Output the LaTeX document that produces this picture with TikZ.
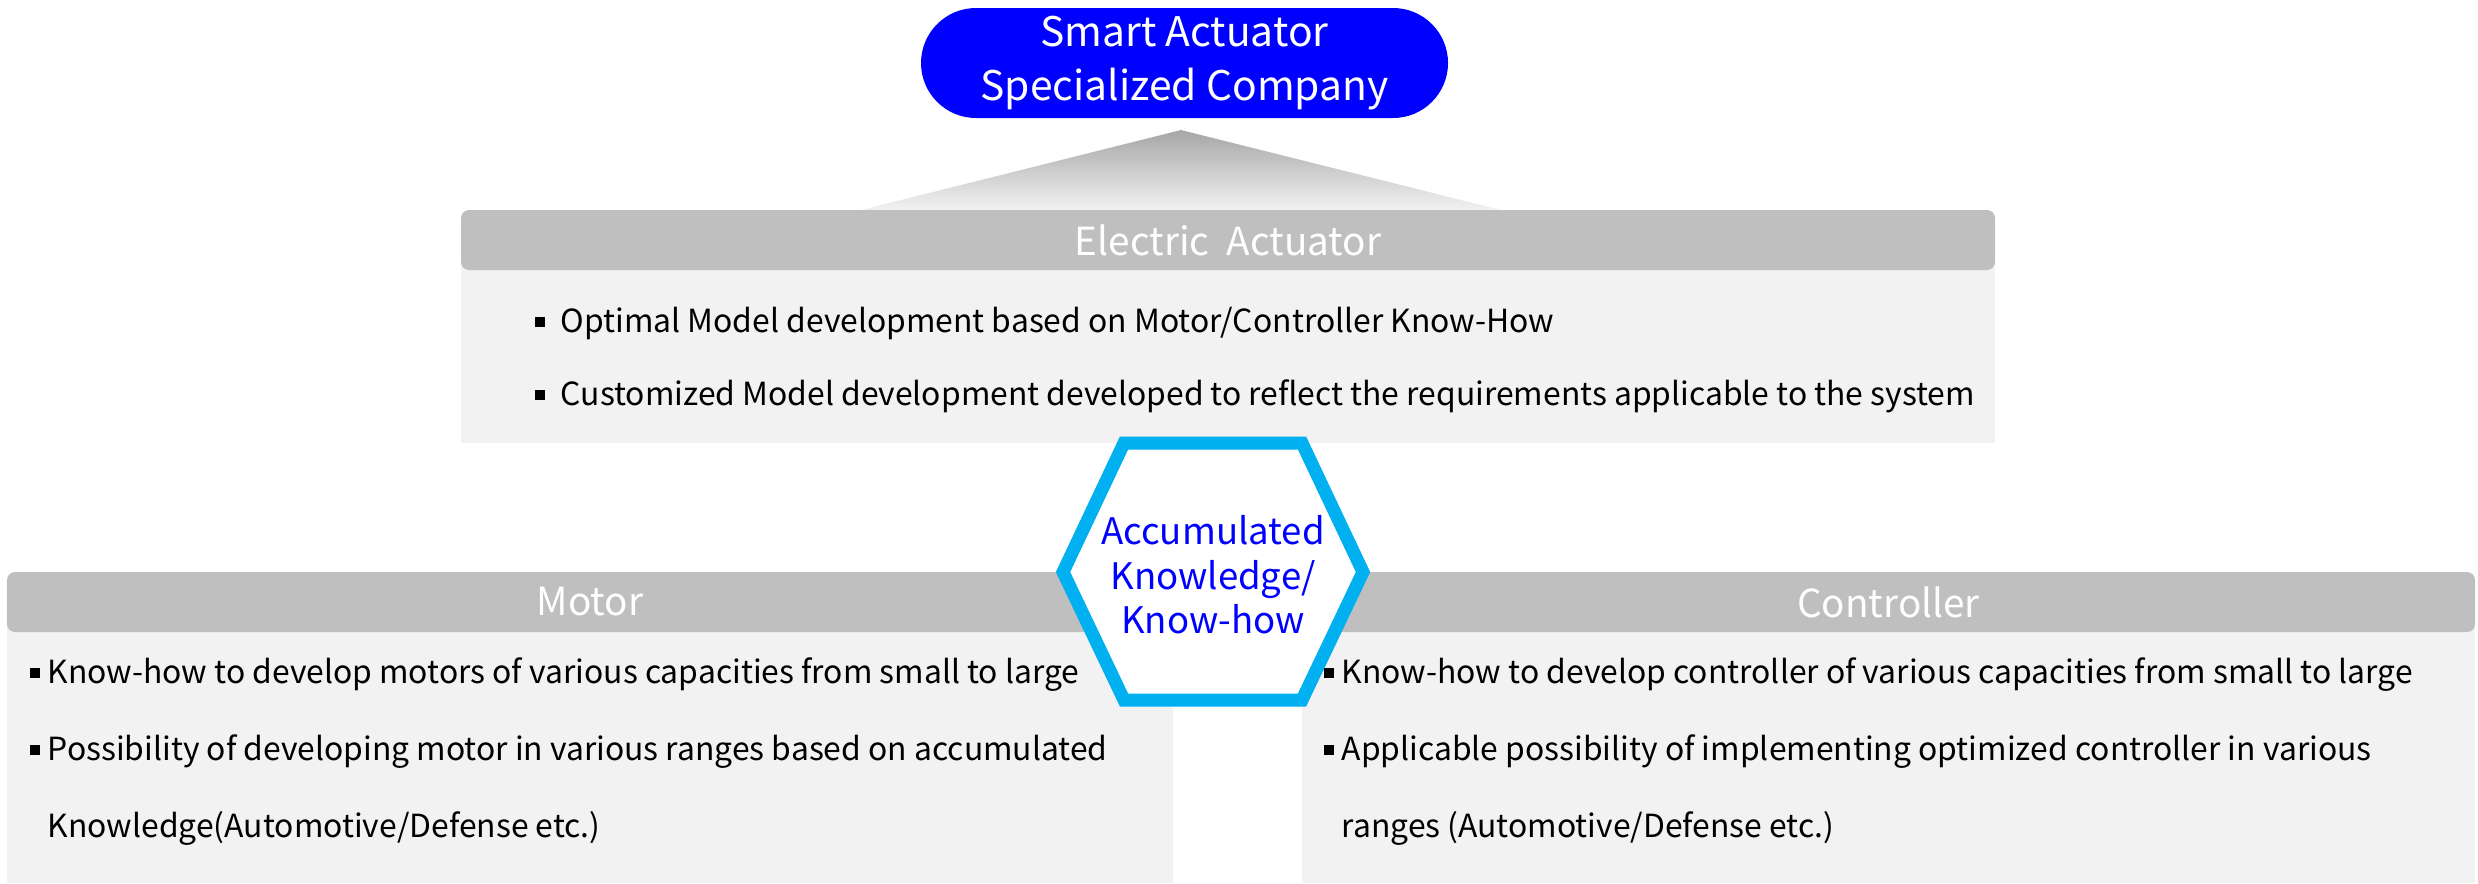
\documentclass[tikz,border=0pt]{standalone}
\usepackage{fontspec}
\setmainfont{Noto Sans CJK KR}
\usetikzlibrary{positioning, calc, shapes.misc}
\definecolor{pill-blue}{RGB}{0,0,255}
\definecolor{hex-cyan}{RGB}{0,176,240}
\definecolor{head-gray}{RGB}{191,191,191}
\definecolor{body-gray}{RGB}{242,242,242}
\newcommand{\sqb}{\rule[0.05cm]{0.1cm}{0.1cm}}

\begin{document}
\begin{tikzpicture}[
		headbar/.style={fill=head-gray, rounded corners=0.08cm, text=white, minimum height=0.6cm, inner sep=0pt, font=\fontsize{11pt}{13pt}\selectfont},
		bodybox/.style={fill=body-gray},
		point/.style={anchor=base west, inner sep=0pt, align=left, font=\fontsize{9.06pt}{21.9pt}\selectfont}
	]
					\useasboundingbox (0,0) rectangle (24.78,-8.83);
					
					\shade[top color=black!35, middle color=black!9, bottom color=body-gray] (11.81,-1.30) -- (15.01,-2.10) -- (8.61,-2.10) -- cycle;
					\node[rounded rectangle, fill=pill-blue, text=white, minimum width=5.27cm, minimum height=1.10cm, inner sep=0pt, align=center, font=\fontsize{11.6pt}{15.2pt}\selectfont] at (11.845,-0.63) (company) {Smart Actuator\\Specialized Company};
					
					\fill[bodybox] (4.61,-2.40) rectangle (19.95,-4.43);
					\node[headbar, minimum width=15.34cm] at (12.28,-2.40) (electric) {Electric~ Actuator};
					\node[point] at (5.34,-3.32) (e1) {\sqb\hspace{0.16cm}Optimal Model development based on Motor/Controller Know-How};
					\node[point] at (5.34,-4.05) (e2) {\sqb\hspace{0.16cm}Customized Model development developed to reflect the requirements applicable to the system};
					
					\fill[bodybox] (0.07,-6.02) rectangle (11.73,-8.83);
					\node[headbar, minimum width=11.66cm] at (5.90,-6.02) (motor) {Motor};
					\node[point] at (0.29,-6.83) (m1) {\sqb\hspace{0.08cm}Know-how to develop motors of various capacities from small to large};
					\node[point] at (0.29,-8.37) (m2) {\sqb\hspace{0.08cm}Possibility of developing motor in various ranges based on accumulated\\\hphantom{\sqb\hspace{0.08cm}}Knowledge(Automotive/Defense etc.)};
					
					\fill[bodybox] (13.02,-6.02) rectangle (24.75,-8.83);
					\node[headbar, minimum width=11.73cm] at (18.885,-6.02) (controller) {Controller};
					\node[point] at (13.23,-6.83) (c1) {\sqb\hspace{0.08cm}Know-how to develop controller of various capacities from small to large};
					\node[point] at (13.23,-8.37) (c2) {\sqb\hspace{0.08cm}Applicable possibility of implementing optimized controller in various\\\hphantom{\sqb\hspace{0.08cm}}ranges (Automotive/Defense etc.)};
					
					\draw[hex-cyan, line width=0.13cm, fill=white] (11.24,-4.43) -- (13.02,-4.43) -- (13.63,-5.72) -- (13.02,-7.00) -- (11.24,-7.00) -- (10.63,-5.72) -- cycle;
					\node[text=pill-blue, align=center, font=\fontsize{10.4pt}{12.7pt}\selectfont] at (12.13,-5.75) (know) {Accumulated\\Knowledge/\\Know-how};
				\end{tikzpicture}
\end{document}
